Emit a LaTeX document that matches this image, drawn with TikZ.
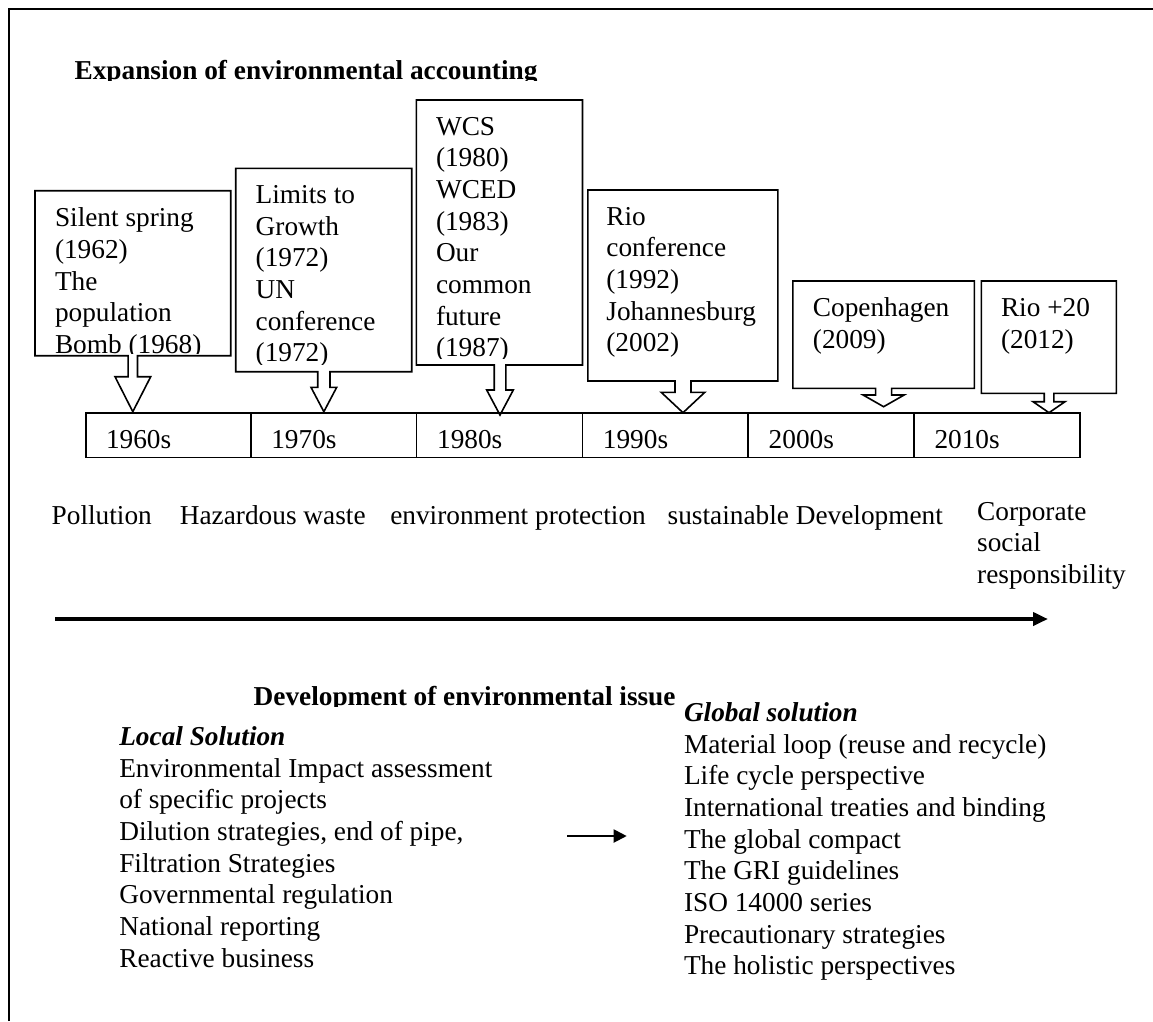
\documentclass[tikz,border=0pt]{standalone}
\usepackage{fontspec}
\setmainfont{Liberation Serif}
\usetikzlibrary{arrows.meta}
% several lines set flush left, the first baseline being the node's base
\newcommand\linestack[1]{\begin{tabular}[t]{@{}l@{}}#1\end{tabular}}

\begin{document}
\begin{tikzpicture}[x=1pt,y=-1pt,
  every node/.style={inner sep=0pt, outer sep=0pt, anchor=base west,
    font=\fontsize{27.3}{31.7}\selectfont},
  heading/.style={font=\fontsize{27.3}{31.7}\selectfont\bfseries},
  subhead/.style={font=\fontsize{27.3}{31.7}\selectfont\bfseries\itshape},
  callout/.style={draw, line width=1.6pt, fill=white, line join=miter},
  cell/.style={draw, line width=1.6pt},
  frame/.style={line width=2.2pt},
  axisarrow/.style={line width=4pt, -{Triangle[length=15pt,width=13pt]}},
  shiftarrow/.style={line width=2pt, -{Triangle[length=13pt,width=13pt]}}
]
\useasboundingbox (0,0) rectangle (1153,1021);

% open frame: top and left sides only
\draw[frame] (9,1021) -- (9,9.3) -- (1153,9.3);

% upper heading, cut off at its baseline
\begin{scope}
  \clip (60,40) rectangle (600,80);
  \node[heading] (toptitle) at (74.6,79.5) {Expansion of environmental accounting};
\end{scope}

% ---- down-arrow callouts ----
\draw[callout] (35,190.7) -- (230.7,190.7) -- (230.7,355.7) -- (137.5,355.7) -- (137.5,376.7) -- (150.7,376.7) -- (132.8,411.7) -- (115,376.7) -- (128.1,376.7) -- (128.1,355.7) -- (35,355.7) -- cycle;
\begin{scope}
  \clip (37,192) rectangle (228,353.5);
  \node (ev60) at (55,226.7) {\linestack{Silent spring\\(1962)\\The\\population\\Bomb (1968)}};
\end{scope}

\draw[callout] (235.7,168.3) -- (411.7,168.3) -- (411.7,371.7) -- (330,371.7) -- (330,387.3) -- (336.7,387.3) -- (323.85,411.7) -- (311,387.3) -- (317.7,387.3) -- (317.7,371.7) -- (235.7,371.7) -- cycle;
\begin{scope}
  \clip (237,170) rectangle (410,364.7);
  \node (ev70) at (255.7,203.3) {\linestack{Limits to\\Growth\\(1972)\\UN\\conference\\(1972)}};
\end{scope}

\draw[callout] (416.4,100) -- (582.5,100) -- (582.5,365) -- (505.8,365) -- (505.8,390) -- (513.3,390) -- (500,415) -- (486.7,390) -- (494.2,390) -- (494.2,365) -- (416.4,365) -- cycle;
\begin{scope}
  \clip (418,102) rectangle (581,358.3);
  \node (ev80) at (436,135) {\linestack{WCS\\(1980)\\WCED\\(1983)\\Our\\common\\future\\(1987)}};
\end{scope}

\draw[callout] (587.9,190) -- (777.9,190) -- (777.9,381) -- (691,381) -- (691,392.3) -- (704.8,392.3) -- (683,412.7) -- (661.2,392.3) -- (675,392.3) -- (675,381) -- (587.9,381) -- cycle;
\begin{scope}
  \clip (589,192) rectangle (776,374);
  \node (ev90) at (606.4,225) {\linestack{Rio\\conference\\(1992)\\Johannesburg\\(2002)}};
\end{scope}

\draw[callout] (792.9,281) -- (974.3,281) -- (974.3,388.3) -- (891.6,388.3) -- (891.6,395) -- (904.1,395) -- (883.6,406.7) -- (863.1,395) -- (875.6,395) -- (875.6,388.3) -- (792.9,388.3) -- cycle;
\node (ev00) at (812.9,316.7) {\linestack{Copenhagen\\(2009)}};

\draw[callout] (981.4,281) -- (1116.4,281) -- (1116.4,393.3) -- (1053.8,393.3) -- (1053.8,401.7) -- (1065,401.7) -- (1049,412.7) -- (1033,401.7) -- (1044.2,401.7) -- (1044.2,393.3) -- (981.4,393.3) -- cycle;
\node (ev10) at (1001,316.7) {\linestack{Rio +20\\(2012)}};

% ---- decade strip ----
\draw[cell] (86,413) rectangle (1079.8,457.5);
\foreach \xx in {250.7,416.6,582.4,748.2,914} \draw[cell] (\xx,413) -- (\xx,457.5);
\node (d60) at (106,448.5) {1960s};
\node (d70) at (271.3,448.5) {1970s};
\node (d80) at (437.1,448.5) {1980s};
\node (d90) at (602.9,448.5) {1990s};
\node (d00) at (768.7,448.5) {2000s};
\node (d10) at (934.5,448.5) {2010s};

% ---- issues along the time axis ----
\node (iss1) at (51.7,524.5) {Pollution};
\node (iss2) at (179.9,524.5) {Hazardous waste};
\node (iss3) at (390.3,524.5) {environment protection};
\node (iss4) at (667.7,524.5) {sustainable Development};
\node (iss5) at (977.2,520) {\linestack{Corporate\\social\\responsibility}};

\coordinate (axisL) at (55,619);
\coordinate (axisR) at (1048,619);
\draw[axisarrow] (axisL) -- (axisR);

\begin{scope}
  \clip (240,660) rectangle (700,706);
  \node[heading] (bottitle) at (253.7,705) {Development of environmental issue};
\end{scope}

% ---- local versus global solutions ----
\node[subhead] (loc) at (119.3,745.5) {Local Solution};
\node (loclist) at (119.3,777) {\linestack{Environmental Impact assessment\\of specific projects\\Dilution strategies, end of pipe,\\Filtration Strategies\\Governmental regulation\\National reporting\\Reactive business}};

\node[subhead] (glo) at (684,721.3) {Global solution};
\node (glolist) at (684,753) {\linestack{Material loop (reuse and recycle)\\Life cycle perspective\\International treaties and binding\\The global compact\\The GRI guidelines\\ISO 14000 series\\Precautionary strategies\\The holistic perspectives}};

\coordinate (shiftL) at (567.3,836);
\coordinate (shiftR) at (626.7,836);
\draw[shiftarrow] (shiftL) -- (shiftR);
\end{tikzpicture}
\end{document}
